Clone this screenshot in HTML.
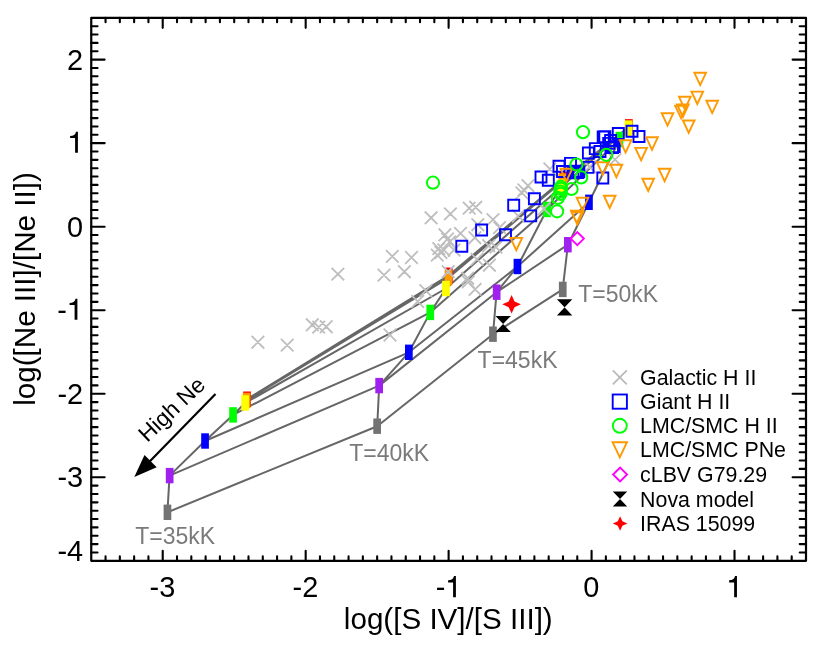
<!DOCTYPE html>
<html><head><meta charset="utf-8"><title>plot</title>
<style>html,body{margin:0;padding:0;background:#fff}svg{will-change:transform}body{width:830px;height:645px;overflow:hidden}</style>
</head><body>
<svg width="830" height="645" viewBox="0 0 830 645" style="display:block;font-family:'Liberation Sans',sans-serif">
<rect width="830" height="645" fill="#fff"/>
<path d="M167.4 512.3L169.6 475.6L205.0 441.0L233.1 414.9L245.2 403.0L246.5 400.5L247.0 399.2M377.2 426.2L379.2 385.6L408.9 352.3L430.3 312.4L446.0 288.5L448.5 277.8L448.9 275.3M493.0 334.2L496.6 292.2L517.5 266.5L547.0 209.5L560.8 187.3L562.3 181.2L563.2 179.2M562.7 289.4L567.9 244.7L589.0 202.3L619.5 139.5L628.4 128.6L628.9 127.6L628.9 126.8M167.4 512.3L377.2 426.2L493.0 334.2L562.7 289.4M169.6 475.6L379.2 385.6L496.6 292.2L567.9 244.7M205.0 441.0L408.9 352.3L517.5 266.5L589.0 202.3M233.1 414.9L430.3 312.4L547.0 209.5L619.5 139.5M245.2 403.0L446.0 288.5L560.8 187.3L628.4 128.6M246.5 400.5L448.5 277.8L562.3 181.2L628.9 127.6M247.0 399.2L448.9 275.3L563.2 179.2L628.9 126.8" stroke="#666" stroke-width="2.0" fill="none" stroke-linejoin="round"/>
<rect x="243.2" y="391.5" width="7.7" height="15.4" fill="#ff0000"/>
<rect x="242.7" y="392.8" width="7.7" height="15.4" fill="#ff9900"/>
<rect x="241.3" y="395.3" width="7.7" height="15.4" fill="#ffff00"/>
<rect x="229.2" y="407.2" width="7.7" height="15.4" fill="#00ff00"/>
<rect x="201.2" y="433.3" width="7.7" height="15.4" fill="#0000ff"/>
<rect x="165.8" y="467.9" width="7.7" height="15.4" fill="#a020f0"/>
<rect x="163.6" y="504.6" width="7.7" height="15.4" fill="#737373"/>
<rect x="445.0" y="267.6" width="7.7" height="15.4" fill="#ff0000"/>
<rect x="444.6" y="270.1" width="7.7" height="15.4" fill="#ff9900"/>
<rect x="442.1" y="280.8" width="7.7" height="15.4" fill="#ffff00"/>
<rect x="426.4" y="304.7" width="7.7" height="15.4" fill="#00ff00"/>
<rect x="405.0" y="344.6" width="7.7" height="15.4" fill="#0000ff"/>
<rect x="375.3" y="377.9" width="7.7" height="15.4" fill="#a020f0"/>
<rect x="373.3" y="418.5" width="7.7" height="15.4" fill="#737373"/>
<rect x="559.4" y="171.5" width="7.7" height="15.4" fill="#ff0000"/>
<rect x="558.4" y="173.5" width="7.7" height="15.4" fill="#ff9900"/>
<rect x="556.9" y="179.6" width="7.7" height="15.4" fill="#ffff00"/>
<rect x="543.1" y="201.8" width="7.7" height="15.4" fill="#00ff00"/>
<rect x="513.6" y="258.8" width="7.7" height="15.4" fill="#0000ff"/>
<rect x="492.8" y="284.5" width="7.7" height="15.4" fill="#a020f0"/>
<rect x="489.1" y="326.5" width="7.7" height="15.4" fill="#737373"/>
<rect x="625.0" y="119.1" width="7.7" height="15.4" fill="#ff0000"/>
<rect x="625.0" y="119.9" width="7.7" height="15.4" fill="#ff9900"/>
<rect x="624.5" y="120.9" width="7.7" height="15.4" fill="#ffff00"/>
<rect x="615.6" y="131.8" width="7.7" height="15.4" fill="#00ff00"/>
<rect x="585.1" y="194.6" width="7.7" height="15.4" fill="#0000ff"/>
<rect x="564.0" y="237.0" width="7.7" height="15.4" fill="#a020f0"/>
<rect x="558.9" y="281.7" width="7.7" height="15.4" fill="#737373"/>
<path d="M251.6 335.9L264.2 348.5M251.6 348.5L264.2 335.9M280.9 338.8L293.5 351.4M280.9 351.4L293.5 338.8M306.0 318.5L318.6 331.1M306.0 331.1L318.6 318.5M312.4 320.8L325.0 333.4M312.4 333.4L325.0 320.8M319.9 320.4L332.5 333.0M319.9 333.0L332.5 320.4M331.6 267.8L344.2 280.4M331.6 280.4L344.2 267.8M377.7 268.8L390.3 281.4M377.7 281.4L390.3 268.8M386.0 250.1L398.6 262.7M386.0 262.7L398.6 250.1M383.7 328.7L396.3 341.3M383.7 341.3L396.3 328.7M405.2 251.2L417.8 263.8M405.2 263.8L417.8 251.2M398.1 265.4L410.7 278.0M398.1 278.0L410.7 265.4M419.5 284.3L432.1 296.9M419.5 296.9L432.1 284.3M411.4 295.2L424.0 307.8M411.4 307.8L424.0 295.2M462.0 275.5L474.6 288.1M462.0 288.1L474.6 275.5M468.8 283.1L481.4 295.7M468.8 295.7L481.4 283.1M424.8 211.5L437.4 224.1M424.8 224.1L437.4 211.5M444.1 207.6L456.7 220.2M444.1 220.2L456.7 207.6M462.9 201.8L475.5 214.4M462.9 214.4L475.5 201.8M469.4 201.0L482.0 213.6M469.4 213.6L482.0 201.0M486.7 213.3L499.3 225.9M486.7 225.9L499.3 213.3M438.6 228.5L451.2 241.1M438.6 241.1L451.2 228.5M454.2 227.1L466.8 239.7M454.2 239.7L466.8 227.1M443.3 235.7L455.9 248.3M443.3 248.3L455.9 235.7M432.5 242.3L445.1 254.9M432.5 254.9L445.1 242.3M437.6 243.7L450.2 256.3M437.6 256.3L450.2 243.7M447.7 243.7L460.3 256.3M447.7 256.3L460.3 243.7M431.0 248.8L443.6 261.4M431.0 261.4L443.6 248.8M471.5 218.4L484.1 231.0M471.5 231.0L484.1 218.4M468.6 231.4L481.2 244.0M468.6 244.0L481.2 231.4M493.2 221.3L505.8 233.9M493.2 233.9L505.8 221.3M482.4 239.4L495.0 252.0M482.4 252.0L495.0 239.4M489.6 240.8L502.2 253.4M489.6 253.4L502.2 240.8M470.8 253.1L483.4 265.7M470.8 265.7L483.4 253.1M483.1 258.9L495.7 271.5M483.1 271.5L495.7 258.9M441.9 265.4L454.5 278.0M441.9 278.0L454.5 265.4M461.4 271.9L474.0 284.5M461.4 284.5L474.0 271.9M515.6 186.6L528.2 199.2M515.6 199.2L528.2 186.6M512.0 209.7L524.6 222.3M512.0 222.3L524.6 209.7M441.2 232.7L453.8 245.3M441.2 245.3L453.8 232.7M434.7 246.2L447.3 258.8M434.7 258.8L447.3 246.2M517.6 183.7L530.2 196.3M517.6 196.3L530.2 183.7M521.7 179.4L534.3 192.0M521.7 192.0L534.3 179.4M537.7 202.5L550.3 215.1M537.7 215.1L550.3 202.5M543.6 162.7L556.2 175.3M543.6 175.3L556.2 162.7M583.3 160.6L595.9 173.2M583.3 173.2L595.9 160.6M608.7 153.3L621.3 165.9M608.7 165.9L621.3 153.3" stroke="#bebebe" stroke-width="1.8" fill="none"/>
<path d="M456.3 240.8h11v11h-11ZM476.1 224.5h11v11h-11ZM500.0 229.3h11v11h-11ZM508.2 199.8h11v11h-11ZM525.2 210.4h11v11h-11ZM528.9 193.3h11v11h-11ZM535.5 171.5h11v11h-11ZM542.8 174.7h11v11h-11ZM553.5 160.8h11v11h-11ZM557.0 166.0h11v11h-11ZM565.0 157.9h11v11h-11ZM573.3 166.4h11v11h-11ZM582.5 161.9h11v11h-11ZM582.9 147.5h11v11h-11ZM589.8 143.1h11v11h-11ZM594.5 146.0h11v11h-11ZM597.3 172.5h11v11h-11ZM597.7 131.5h11v11h-11ZM603.2 137.9h11v11h-11ZM605.1 135.0h11v11h-11ZM607.0 142.0h11v11h-11ZM608.7 141.1h11v11h-11ZM612.8 128.0h11v11h-11ZM599.3 131.2h11v11h-11ZM626.5 125.8h11v11h-11ZM633.5 131.0h11v11h-11ZM567.5 167.3h11v11h-11ZM570.0 165.7h11v11h-11ZM572.0 167.1h11v11h-11Z" stroke="#0000ff" stroke-width="1.9" fill="none"/>
<path d="M694.4 72.8L706.0 72.8L700.2 85.1ZM691.5 91.6L703.1 91.6L697.3 104.0ZM706.4 100.8L718.0 100.8L712.2 113.1ZM679.0 96.8L690.6 96.8L684.8 109.2ZM677.1 104.5L688.7 104.5L682.9 116.9ZM675.2 105.8L686.8 105.8L681.0 118.1ZM661.7 113.2L673.3 113.2L667.5 125.6ZM682.9 120.5L694.5 120.5L688.7 132.8ZM646.2 137.3L657.8 137.3L652.0 149.7ZM635.3 147.9L646.9 147.9L641.1 160.2ZM619.8 140.2L631.4 140.2L625.6 152.6ZM610.6 164.8L622.2 164.8L616.4 177.2ZM658.8 168.8L670.4 168.8L664.6 181.2ZM596.9 162.2L608.5 162.2L602.7 174.6ZM560.6 168.8L572.2 168.8L566.4 181.2ZM642.4 178.7L654.0 178.7L648.2 191.0ZM603.9 195.7L615.5 195.7L609.7 208.0ZM576.7 197.8L588.3 197.8L582.5 210.2ZM571.0 210.7L582.6 210.7L576.8 223.0ZM510.5 237.9L522.1 237.9L516.3 250.2ZM571.5 212.2L583.1 212.2L577.3 224.5Z" stroke="#ff9900" stroke-width="1.9" fill="none" stroke-linejoin="miter"/>
<circle cx="433.0" cy="182.7" r="6.1" stroke="#00ff00" stroke-width="2.0" fill="none"/>
<circle cx="583.0" cy="132.2" r="6.1" stroke="#00ff00" stroke-width="2.0" fill="none"/>
<circle cx="606.3" cy="154.8" r="6.1" stroke="#00ff00" stroke-width="2.0" fill="none"/>
<circle cx="576.5" cy="164.5" r="6.1" stroke="#00ff00" stroke-width="2.0" fill="none"/>
<circle cx="581.2" cy="177.4" r="6.1" stroke="#00ff00" stroke-width="2.0" fill="none"/>
<circle cx="571.6" cy="189.0" r="6.1" stroke="#00ff00" stroke-width="2.0" fill="none"/>
<circle cx="560.9" cy="186.9" r="6.1" stroke="#00ff00" stroke-width="2.0" fill="none"/>
<circle cx="560.9" cy="188.9" r="6.1" stroke="#00ff00" stroke-width="2.0" fill="none"/>
<circle cx="560.2" cy="191.7" r="6.1" stroke="#00ff00" stroke-width="2.0" fill="none"/>
<circle cx="560.6" cy="193.8" r="6.1" stroke="#00ff00" stroke-width="2.0" fill="none"/>
<circle cx="557.8" cy="198.0" r="6.1" stroke="#00ff00" stroke-width="2.0" fill="none"/>
<circle cx="557.1" cy="211.3" r="6.1" stroke="#00ff00" stroke-width="2.0" fill="none"/>
<path d="M570.7 238.6L577.3 232.0L583.9 238.6L577.3 245.2Z" stroke="#ff00ff" stroke-width="1.9" fill="none"/>
<path d="M495.5 315.9L510.9 315.9L495.5 332.1L510.9 332.1ZM556.9 299.2L572.3 299.2L556.9 315.4L572.3 315.4Z" fill="#000"/>
<path d="M511.6 295.0L514.5 301.4L520.9 304.3L514.5 307.2L511.6 313.6L508.7 307.2L502.3 304.3L508.7 301.4Z" fill="#ff0000"/>
<path d="M215.5 393.9L146 465.3" stroke="#000" stroke-width="2.2" fill="none"/>
<path d="M134.3 477.1L144.5 455.0L156.7 467.2Z" fill="#000"/>
<text transform="translate(147.2,443.0) rotate(-43.5)" font-size="22.7" fill="#000">High Ne</text>
<text x="135.3" y="544.3" font-size="23" fill="#7a7a7a">T=35kK</text>
<text x="349.3" y="460.5" font-size="23" fill="#7a7a7a">T=40kK</text>
<text x="477.6" y="368.3" font-size="23" fill="#7a7a7a">T=45kK</text>
<text x="578.3" y="302" font-size="23" fill="#7a7a7a">T=50kK</text>
<path d="M612.8 370.3L626.8 384.3M612.8 384.3L626.8 370.3" stroke="#b9b9b9" stroke-width="1.7" fill="none"/>
<rect x="612.6999999999999" y="394.5" width="14.2" height="14.2" stroke="#0000ff" stroke-width="1.9" fill="none"/>
<circle cx="619.8" cy="425.8" r="7" stroke="#00ff00" stroke-width="1.9" fill="none"/>
<path d="M612.6 442.2L627.0 442.2L619.8 457.4Z" stroke="#ff9900" stroke-width="1.9" fill="none"/>
<path d="M613.1 474.5L620.1 467.5L627.1 474.5L620.1 481.5Z" stroke="#ff00ff" stroke-width="1.9" fill="none"/>
<path d="M612.8 491.6L627.2 491.6L612.8 506.4L627.2 506.4Z" fill="#000"/>
<path d="M620.1 516.2L622.4 521.2L627.4 523.5L622.4 525.8L620.1 530.8L617.8 525.8L612.8 523.5L617.8 521.2Z" fill="#ff0000"/>
<text x="640.1" y="384.9" font-size="21.35" fill="#000">Galactic H II</text>
<text x="640.1" y="409.2" font-size="21.35" fill="#000">Giant H II</text>
<text x="640.1" y="433.4" font-size="21.35" fill="#000">LMC/SMC H II</text>
<text x="640.1" y="457.4" font-size="21.35" fill="#000">LMC/SMC PNe</text>
<text x="640.1" y="482.0" font-size="21.35" fill="#000">cLBV G79.29</text>
<text x="640.1" y="506.6" font-size="21.35" fill="#000">Nova model</text>
<text x="640.1" y="531.2" font-size="21.35" fill="#000">IRAS 15099</text>
<rect x="91.25" y="17.85" width="714.75" height="542.9499999999999" fill="none" stroke="#000" stroke-width="2.2" stroke-linejoin="round"/>
<path d="M105.55 560.8v-4.4M105.55 17.85v4.4M119.84 560.8v-4.4M119.84 17.85v4.4M134.13 560.8v-4.4M134.13 17.85v4.4M148.43 560.8v-4.4M148.43 17.85v4.4M162.72 560.8v-10.0M162.72 17.85v10.0M177.02 560.8v-4.4M177.02 17.85v4.4M191.32 560.8v-4.4M191.32 17.85v4.4M205.61 560.8v-4.4M205.61 17.85v4.4M219.91 560.8v-4.4M219.91 17.85v4.4M234.20 560.8v-4.4M234.20 17.85v4.4M248.50 560.8v-4.4M248.50 17.85v4.4M262.79 560.8v-4.4M262.79 17.85v4.4M277.08 560.8v-4.4M277.08 17.85v4.4M291.38 560.8v-4.4M291.38 17.85v4.4M305.68 560.8v-10.0M305.68 17.85v10.0M319.97 560.8v-4.4M319.97 17.85v4.4M334.26 560.8v-4.4M334.26 17.85v4.4M348.56 560.8v-4.4M348.56 17.85v4.4M362.85 560.8v-4.4M362.85 17.85v4.4M377.15 560.8v-4.4M377.15 17.85v4.4M391.45 560.8v-4.4M391.45 17.85v4.4M405.74 560.8v-4.4M405.74 17.85v4.4M420.03 560.8v-4.4M420.03 17.85v4.4M434.33 560.8v-4.4M434.33 17.85v4.4M448.62 560.8v-10.0M448.62 17.85v10.0M462.92 560.8v-4.4M462.92 17.85v4.4M477.22 560.8v-4.4M477.22 17.85v4.4M491.51 560.8v-4.4M491.51 17.85v4.4M505.81 560.8v-4.4M505.81 17.85v4.4M520.10 560.8v-4.4M520.10 17.85v4.4M534.39 560.8v-4.4M534.39 17.85v4.4M548.69 560.8v-4.4M548.69 17.85v4.4M562.98 560.8v-4.4M562.98 17.85v4.4M577.28 560.8v-4.4M577.28 17.85v4.4M591.58 560.8v-10.0M591.58 17.85v10.0M605.87 560.8v-4.4M605.87 17.85v4.4M620.17 560.8v-4.4M620.17 17.85v4.4M634.46 560.8v-4.4M634.46 17.85v4.4M648.75 560.8v-4.4M648.75 17.85v4.4M663.05 560.8v-4.4M663.05 17.85v4.4M677.35 560.8v-4.4M677.35 17.85v4.4M691.64 560.8v-4.4M691.64 17.85v4.4M705.93 560.8v-4.4M705.93 17.85v4.4M720.23 560.8v-4.4M720.23 17.85v4.4M734.52 560.8v-10.0M734.52 17.85v10.0M748.82 560.8v-4.4M748.82 17.85v4.4M763.12 560.8v-4.4M763.12 17.85v4.4M777.41 560.8v-4.4M777.41 17.85v4.4M791.71 560.8v-4.4M791.71 17.85v4.4M91.25 552.45h6.3M806.0 552.45h-6.3M91.25 544.09h6.3M806.0 544.09h-6.3M91.25 535.74h6.3M806.0 535.74h-6.3M91.25 527.39h6.3M806.0 527.39h-6.3M91.25 519.03h6.3M806.0 519.03h-6.3M91.25 510.68h6.3M806.0 510.68h-6.3M91.25 502.33h6.3M806.0 502.33h-6.3M91.25 493.98h6.3M806.0 493.98h-6.3M91.25 485.62h6.3M806.0 485.62h-6.3M91.25 477.27h13.4M806.0 477.27h-13.4M91.25 468.92h6.3M806.0 468.92h-6.3M91.25 460.56h6.3M806.0 460.56h-6.3M91.25 452.21h6.3M806.0 452.21h-6.3M91.25 443.86h6.3M806.0 443.86h-6.3M91.25 435.50h6.3M806.0 435.50h-6.3M91.25 427.15h6.3M806.0 427.15h-6.3M91.25 418.80h6.3M806.0 418.80h-6.3M91.25 410.44h6.3M806.0 410.44h-6.3M91.25 402.09h6.3M806.0 402.09h-6.3M91.25 393.74h13.4M806.0 393.74h-13.4M91.25 385.39h6.3M806.0 385.39h-6.3M91.25 377.03h6.3M806.0 377.03h-6.3M91.25 368.68h6.3M806.0 368.68h-6.3M91.25 360.33h6.3M806.0 360.33h-6.3M91.25 351.97h6.3M806.0 351.97h-6.3M91.25 343.62h6.3M806.0 343.62h-6.3M91.25 335.27h6.3M806.0 335.27h-6.3M91.25 326.91h6.3M806.0 326.91h-6.3M91.25 318.56h6.3M806.0 318.56h-6.3M91.25 310.21h13.4M806.0 310.21h-13.4M91.25 301.85h6.3M806.0 301.85h-6.3M91.25 293.50h6.3M806.0 293.50h-6.3M91.25 285.15h6.3M806.0 285.15h-6.3M91.25 276.80h6.3M806.0 276.80h-6.3M91.25 268.44h6.3M806.0 268.44h-6.3M91.25 260.09h6.3M806.0 260.09h-6.3M91.25 251.74h6.3M806.0 251.74h-6.3M91.25 243.38h6.3M806.0 243.38h-6.3M91.25 235.03h6.3M806.0 235.03h-6.3M91.25 226.68h13.4M806.0 226.68h-13.4M91.25 218.32h6.3M806.0 218.32h-6.3M91.25 209.97h6.3M806.0 209.97h-6.3M91.25 201.62h6.3M806.0 201.62h-6.3M91.25 193.26h6.3M806.0 193.26h-6.3M91.25 184.91h6.3M806.0 184.91h-6.3M91.25 176.56h6.3M806.0 176.56h-6.3M91.25 168.21h6.3M806.0 168.21h-6.3M91.25 159.85h6.3M806.0 159.85h-6.3M91.25 151.50h6.3M806.0 151.50h-6.3M91.25 143.15h13.4M806.0 143.15h-13.4M91.25 134.79h6.3M806.0 134.79h-6.3M91.25 126.44h6.3M806.0 126.44h-6.3M91.25 118.09h6.3M806.0 118.09h-6.3M91.25 109.73h6.3M806.0 109.73h-6.3M91.25 101.38h6.3M806.0 101.38h-6.3M91.25 93.03h6.3M806.0 93.03h-6.3M91.25 84.67h6.3M806.0 84.67h-6.3M91.25 76.32h6.3M806.0 76.32h-6.3M91.25 67.97h6.3M806.0 67.97h-6.3M91.25 59.62h13.4M806.0 59.62h-13.4M91.25 51.26h6.3M806.0 51.26h-6.3M91.25 42.91h6.3M806.0 42.91h-6.3M91.25 34.56h6.3M806.0 34.56h-6.3M91.25 26.20h6.3M806.0 26.20h-6.3" stroke="#000" stroke-width="2.1" fill="none" stroke-linecap="round"/>
<text x="162.4" y="597.3" font-size="28.9" text-anchor="middle" fill="#000">-3</text>
<text x="305.4" y="597.3" font-size="28.9" text-anchor="middle" fill="#000">-2</text>
<text x="591.3" y="597.3" font-size="28.9" text-anchor="middle" fill="#000">0</text>
<text x="83.2" y="561.0" font-size="28.9" text-anchor="end" fill="#000">-4</text>
<text x="83.2" y="487.2" font-size="28.9" text-anchor="end" fill="#000">-3</text>
<text x="83.2" y="403.6" font-size="28.9" text-anchor="end" fill="#000">-2</text>
<text x="83.2" y="236.6" font-size="28.9" text-anchor="end" fill="#000">0</text>
<text x="83.2" y="69.5" font-size="28.9" text-anchor="end" fill="#000">2</text>
<text x="435.7" y="597.3" font-size="28.9" fill="#000">-</text>
<text x="57.3" y="320.1" font-size="28.9" fill="#000">-</text>
<path d="M455.90 597.20L453.10 597.20L453.10 582.40L448.10 582.40L448.10 580.30C451.40 580.30 453.40 579.00 454.00 576.10L455.90 576.10ZM736.95 597.20L734.15 597.20L734.15 582.40L729.15 582.40L729.15 580.30C732.45 580.30 734.45 579.00 735.05 576.10L736.95 576.10ZM77.90 152.80L75.10 152.80L75.10 138.00L70.10 138.00L70.10 135.90C73.40 135.90 75.40 134.60 76.00 131.70L77.90 131.70ZM77.40 319.86L74.60 319.86L74.60 305.06L69.60 305.06L69.60 302.96C72.90 302.96 74.90 301.66 75.50 298.76L77.40 298.76Z" fill="#000"/>
<text x="448.3" y="629" font-size="29.6" text-anchor="middle" fill="#000">log([S IV]/[S III])</text>
<text transform="translate(35.4,289) rotate(-90)" font-size="29.6" text-anchor="middle" fill="#000">log([Ne III]/[Ne II])</text>
</svg>
</body></html>
